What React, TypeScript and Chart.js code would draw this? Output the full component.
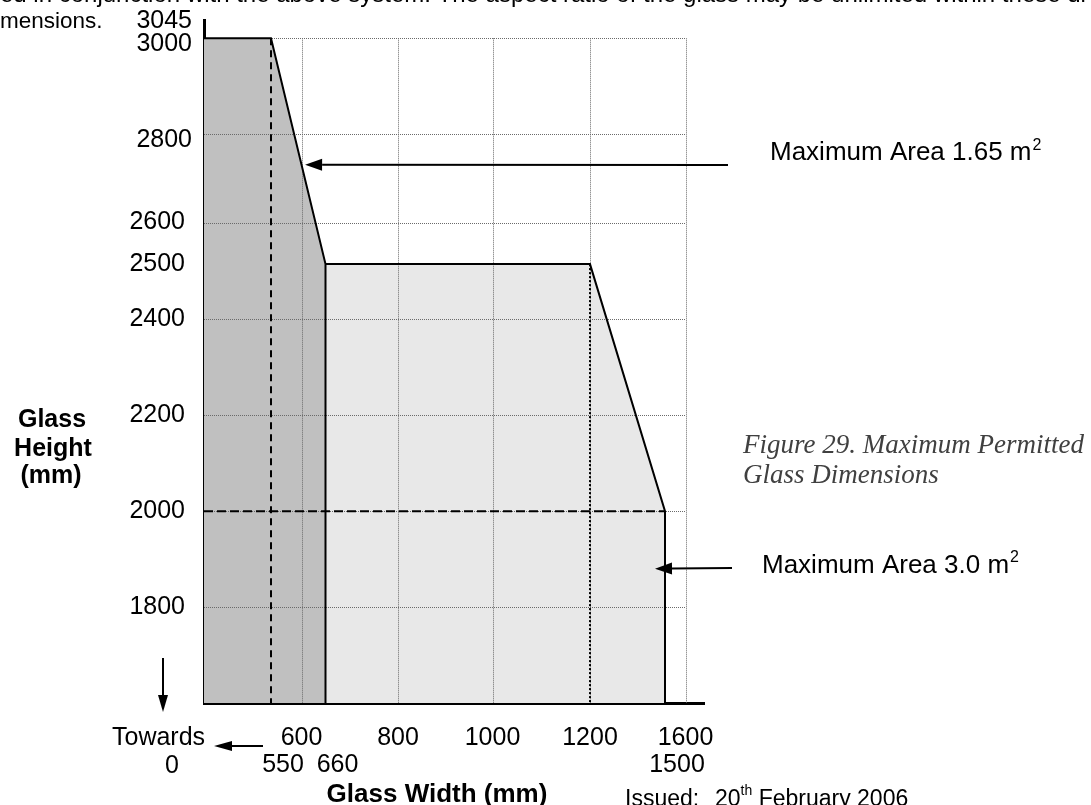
import React, { useEffect, useRef } from 'react';
import { Chart, registerables, LinearScale } from 'chart.js';

// ---------------- data ----------------
const widthTicks = [600, 800, 1000, 1200, 1600];
const widthMarks = [550, 660, 1500];
const heightTicks = [1800, 2000, 2200, 2400, 2500, 2600];
const heightTicksUpper = [2800, 3000];
const heightTickTop = [3045];
const gridWidths = [600, 800, 1000, 1200, 1600];
const gridHeights = [1800, 2000, 2200, 2400, 2600, 2800, 3000];

// 1.65 m² envelope (width mm, height mm)
const smallGlassW = [400, 550, 660, 660];
const smallGlassH = [3000, 3000, 2500, 1600];
// 3.0 m² envelope
const largeGlassW = [660, 1200, 1500, 1500];
const largeGlassH = [2500, 2500, 2000, 1600];
// guide lines
const guide550W = [550, 550];
const guide550H = [3000, 1600];
const guide2000W = [400, 1500];
const guide2000H = [2000, 2000];
const guide1200W = [1200, 1200];
const guide1200H = [2500, 1600];

// arrow targets (data units)
const arrow165Target = { w: 609, h: 2730 };
const arrow30Target = { w: 1460, h: 1880 };

// The original drawing is not to scale: knots value -> fraction along the axis
const xKnotValues = [400, 550, 600, 660, 800, 1000, 1200, 1500, 1600, 1640];
const xKnotFractions = [0, 0.134, 0.195, 0.243, 0.388, 0.577, 0.772, 0.922, 0.963, 1];
const yKnotValues = [1600, 1800, 2000, 2200, 2400, 2500, 2600, 2800, 3000, 3045];
const yKnotFractions = [0, 0.1406, 0.2808, 0.4222, 0.562, 0.6426, 0.7034, 0.8335, 0.9732, 1];

function interp(v: number, xs: number[], ys: number[]) {
  const n = xs.length;
  let i = 0;
  if (v <= xs[0]) i = 0;
  else if (v >= xs[n - 1]) i = n - 2;
  else {
    while (i < n - 2 && v > xs[i + 1]) i++;
  }
  const t = (v - xs[i]) / (xs[i + 1] - xs[i]);
  return ys[i] + t * (ys[i + 1] - ys[i]);
}

class WarpScale extends LinearScale {
  static id = 'warp';
  getPixelForValue(value: number) {
    const isY = (this as any).axis === 'y';
    const f = isY ? interp(value, yKnotValues, yKnotFractions) : interp(value, xKnotValues, xKnotFractions);
    return this.getPixelForDecimal(f);
  }
  getValueForPixel(pixel: number) {
    const isY = (this as any).axis === 'y';
    const d = this.getDecimalForPixel(pixel);
    return isY ? interp(d, yKnotFractions, yKnotValues) : interp(d, xKnotFractions, xKnotValues);
  }
}

Chart.register(...registerables, WarpScale);

const SANS = '"Liberation Sans", Arial, sans-serif';
const SERIF = '"Liberation Serif", "DejaVu Serif", serif';
const LAST_FILL_INDEX = 5;
const TICK_SIZE = 25;

const pts = (xs: number[], ys: number[]) => xs.map((x, i) => ({ x, y: ys[i] }));

function zeroPad(s: any) {
  s.paddingTop = 0;
  s.paddingBottom = 0;
  s.paddingLeft = 0;
  s.paddingRight = 0;
}

function drawText(ctx: CanvasRenderingContext2D, s: string, x: number, y: number, font: string, align: CanvasTextAlign = 'left', color = '#000') {
  ctx.font = font;
  ctx.textAlign = align;
  ctx.textBaseline = 'alphabetic';
  ctx.fillStyle = color;
  ctx.fillText(s, x, y);
  return ctx.measureText(s).width;
}

function drawArrow(ctx: CanvasRenderingContext2D, x1: number, y1: number, x2: number, y2: number, len = 16, half = 5.5) {
  const a = Math.atan2(y2 - y1, x2 - x1);
  const c = Math.cos(a), s = Math.sin(a);
  const bx = x2 - len * c, by = y2 - len * s;
  ctx.strokeStyle = '#000';
  ctx.fillStyle = '#000';
  ctx.lineWidth = 2;
  ctx.setLineDash([]);
  ctx.beginPath();
  ctx.moveTo(x1, y1);
  ctx.lineTo(bx, by);
  ctx.stroke();
  ctx.beginPath();
  ctx.moveTo(x2, y2);
  ctx.lineTo(bx - half * s, by + half * c);
  ctx.lineTo(bx + half * s, by - half * c);
  ctx.closePath();
  ctx.fill();
}

const gridPlugin = {
  id: 'dottedGrid',
  afterDatasetDraw(chart: any, args: any) {
    if (args.index !== LAST_FILL_INDEX) return;
    const { ctx } = chart;
    const x = chart.scales.x, y = chart.scales.y;
    const left = x.getPixelForValue(xKnotValues[0]);
    const right = x.getPixelForValue(gridWidths[gridWidths.length - 1]);
    const top = y.getPixelForValue(gridHeights[gridHeights.length - 1]);
    const bottom = y.getPixelForValue(yKnotValues[0]);
    ctx.save();
    ctx.strokeStyle = '#6a6a6a';
    ctx.lineWidth = 1;
    ctx.setLineDash([1, 1]);
    gridWidths.forEach((v) => {
      const px = Math.round(x.getPixelForValue(v)) + 0.5;
      ctx.beginPath();
      ctx.moveTo(px, top);
      ctx.lineTo(px, bottom);
      ctx.stroke();
    });
    gridHeights.forEach((v) => {
      const py = Math.round(y.getPixelForValue(v)) + 0.5;
      ctx.beginPath();
      ctx.moveTo(left, py);
      ctx.lineTo(right, py);
      ctx.stroke();
    });
    ctx.restore();
  },
};

const notesPlugin = {
  id: 'notes',
  afterDraw(chart: any) {
    const { ctx } = chart;
    const x = chart.scales.x, y = chart.scales.y;
    ctx.save();
    // page text above the chart
    drawText(ctx, 'ed in conjunction with the above system. The aspect ratio of the glass may be unlimited within these di', 0, 2, `24px ${SANS}`);
    drawText(ctx, 'mensions.', 0, 28, `22.5px ${SANS}`);

    // y axis title
    const bold = `bold 25px ${SANS}`;
    drawText(ctx, 'Glass', 52, 427, bold, 'center');
    drawText(ctx, 'Height', 53, 456, bold, 'center');
    drawText(ctx, '(mm)', 51, 483, bold, 'center');

    // x axis title
    drawText(ctx, 'Glass Width (mm)', 437, 802, `bold 26px ${SANS}`, 'center');

    // towards 0
    drawText(ctx, 'Towards', 112, 745, `25px ${SANS}`);
    drawText(ctx, '0', 172, 773, `25px ${SANS}`, 'center');
    drawArrow(ctx, 163, 658, 163, 712, 17, 5);
    drawArrow(ctx, 263, 746, 214, 746, 18, 5);

    // area annotations
    const f26 = `26px ${SANS}`;
    const sup = `16px ${SANS}`;
    const t1 = 'Maximum Area 1.65 m';
    const w1 = drawText(ctx, t1, 770, 160, f26);
    drawText(ctx, '2', 770 + w1 + 1, 150, sup);
    drawArrow(ctx, 728, 165, x.getPixelForValue(arrow165Target.w), y.getPixelForValue(arrow165Target.h), 17, 6);

    const t2 = 'Maximum Area 3.0 m';
    const w2 = drawText(ctx, t2, 762, 573, f26);
    drawText(ctx, '2', 762 + w2 + 1, 562, sup);
    drawArrow(ctx, 732, 568, x.getPixelForValue(arrow30Target.w), y.getPixelForValue(arrow30Target.h), 17, 6);

    // figure caption
    const cap = `italic 27px ${SERIF}`;
    drawText(ctx, 'Figure 29. Maximum Permitted', 743, 453, cap, 'left', '#404040');
    drawText(ctx, 'Glass Dimensions', 743, 483, cap, 'left', '#404040');

    // issue footer
    const f23 = `23px ${SANS}`;
    drawText(ctx, 'Issued:', 625, 806, f23);
    const w20 = drawText(ctx, '20', 715, 806, f23);
    const wth = drawText(ctx, 'th', 715 + w20, 795, `14px ${SANS}`);
    drawText(ctx, ' February 2006', 715 + w20 + wth, 806, f23);
    ctx.restore();
  },
};

export default function App() {
  const ref = useRef<HTMLCanvasElement | null>(null);

  useEffect(() => {
    if (!ref.current) return;
    const tickFont = { family: SANS, size: TICK_SIZE };
    // width of a 4-digit label, used to right-align mirrored labels
    const mctx = document.createElement('canvas').getContext('2d')!;
    mctx.font = `${TICK_SIZE}px ${SANS}`;
    const digits4 = mctx.measureText('3000').width;

    const yLabelAxis = (values: number[], weight: number, gap: number, labelOffset: number) => ({
      type: 'warp',
      axis: 'y',
      position: 'left',
      min: 1600,
      max: 3045,
      weight,
      z: 1,
      grid: { display: false, drawTicks: false },
      border: { display: false },
      afterBuildTicks: (s: any) => { s.ticks = values.map((v) => ({ value: v })); },
      afterFit: (s: any) => { s.width = 0; zeroPad(s); },
      ticks: {
        autoSkip: false,
        mirror: true,
        crossAlign: 'far',
        padding: -gap - digits4,
        labelOffset,
        color: '#000',
        font: tickFont,
        callback: (v: any) => String(v),
      },
    });

    const chart = new Chart(ref.current, {
      type: 'line',
      data: {
        datasets: [
          { data: pts(smallGlassW, smallGlassH), borderColor: '#000', borderWidth: 2, fill: false },
          { data: pts(largeGlassW, largeGlassH), borderColor: '#000', borderWidth: 2, fill: false },
          { data: pts(guide550W, guide550H), borderColor: '#000', borderWidth: 2, borderDash: [7, 5], fill: false },
          { data: pts(guide2000W, guide2000H), borderColor: '#000', borderWidth: 2, borderDash: [9, 4], fill: false },
          { data: pts(guide1200W, guide1200H), borderColor: '#000', borderWidth: 2, borderDash: [2, 2], fill: false },
          { data: pts(largeGlassW, largeGlassH), borderColor: 'rgba(0,0,0,0)', borderWidth: 0, backgroundColor: '#e8e8e8', fill: 'start' },
          { data: pts(smallGlassW, smallGlassH), borderColor: 'rgba(0,0,0,0)', borderWidth: 0, backgroundColor: '#c0c0c0', fill: 'start' },
        ].map((d) => ({ ...d, xAxisID: 'x', yAxisID: 'y', pointRadius: 0, tension: 0 })) as any,
      },
      options: {
        responsive: false,
        animation: false,
        devicePixelRatio: 1,
        events: [],
        layout: { padding: { left: 0, top: 20, right: 387, bottom: 0 } },
        plugins: {
          legend: { display: false },
          tooltip: { enabled: false },
          title: { display: false },
        },
        scales: {
          x: {
            type: 'warp' as any,
            position: 'bottom',
            min: 400,
            max: 1640,
            weight: 0,
            z: 1,
            grid: { display: false, drawTicks: false },
            border: { display: true, color: '#000', width: 3 },
            afterBuildTicks: (s: any) => { s.ticks = widthTicks.map((v) => ({ value: v })); },
            afterFit: (s: any) => { s.height = 47; zeroPad(s); },
            ticks: { autoSkip: false, maxRotation: 0, minRotation: 0, padding: 20, color: '#000', font: tickFont, callback: (v: any) => String(v) },
          } as any,
          x2: {
            type: 'warp' as any,
            axis: 'x',
            position: 'bottom',
            min: 400,
            max: 1640,
            weight: 1,
            grid: { display: false, drawTicks: false },
            border: { display: false },
            afterBuildTicks: (s: any) => { s.ticks = widthMarks.map((v) => ({ value: v })); },
            afterFit: (s: any) => { s.height = 55; zeroPad(s); },
            ticks: { autoSkip: false, maxRotation: 0, minRotation: 0, padding: 0, labelOffset: 12, color: '#000', font: tickFont, callback: (v: any) => String(v) },
          } as any,
          y: {
            type: 'warp' as any,
            position: 'left',
            min: 1600,
            max: 3045,
            weight: 5,
            z: 1,
            grid: { display: false, drawTicks: false },
            border: { display: true, color: '#000', width: 3 },
            afterBuildTicks: (s: any) => { s.ticks = heightTicks.map((v) => ({ value: v })); },
            afterFit: (s: any) => { s.width = 204; zeroPad(s); },
            ticks: { autoSkip: false, padding: 19, color: '#000', font: tickFont, callback: (v: any) => String(v) },
          } as any,
          yUpper: yLabelAxis(heightTicksUpper, 1, 12, 6) as any,
          yTop: yLabelAxis(heightTickTop, 0, 12, 1) as any,
        },
      },
      plugins: [gridPlugin, notesPlugin],
    });
    return () => chart.destroy();
  }, []);

  return (
    <div style={{ position: 'absolute', left: 0, top: 0, width: 1091, height: 805, overflow: 'hidden', background: '#fff' }}>
      <canvas ref={ref} width={1091} height={805} style={{ display: 'block' }} />
    </div>
  );
}
